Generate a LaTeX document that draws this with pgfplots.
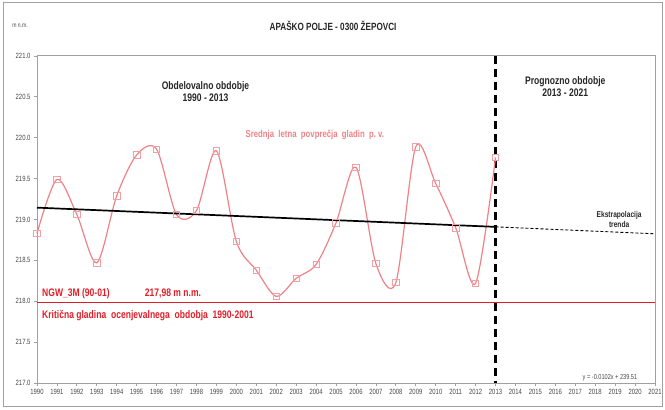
\documentclass[border=0pt]{standalone}
\usepackage{fontspec}
\setmainfont{Liberation Sans}[FakeStretch=0.78]
\usepackage{pgfplots}
\pgfplotsset{compat=1.18}
\definecolor{pinkline}{RGB}{240,130,135}
\definecolor{pinkmark}{RGB}{242,160,165}
\definecolor{redline}{RGB}{225,30,40}
\definecolor{framegray}{RGB}{160,160,160}
\definecolor{ticktext}{RGB}{70,70,70}
\begin{document}
\begin{tikzpicture}[x=1bp,y=1bp]
\useasboundingbox (0,0) rectangle (665,409);
\draw[framegray,line width=1bp] (3,3) rectangle (662,406);
\begin{axis}[
  at={(37bp,26bp)}, anchor=south west,
  scale only axis, width=618bp, height=327bp,
  xmin=1990, xmax=2021, ymin=217, ymax=221,
  xtick={1990,1991,...,2021},
  ytick={217,217.5,...,221},
  yticklabel style={/pgf/number format/.cd,fixed,fixed zerofill,precision=1},
  xticklabel style={/pgf/number format/1000 sep={}},
  /pgf/number format/assume math mode=true,
  tick label style={font=\fontsize{7.6}{8}\selectfont, text=ticktext},
  tick align=outside, tickwidth=3bp,
  xtick pos=bottom, ytick pos=left,
  tick style={framegray, line width=0.8bp},
  axis line style={framegray, line width=1bp},
  clip=false,
]
% vertical boundary 2013
\addplot[black, line width=2.2bp, dash pattern=on 8bp off 5bp] coordinates {(2013,221) (2013,217)};
% critical level
\addplot[redline, line width=1.2bp] coordinates {(1990,217.98) (2021,217.98)};
% series
\addplot[pinkline, line width=1.2bp, smooth, tension=0.5,
  mark=square, mark size=3.2bp, mark options={pinkmark, line width=0.7bp, solid}]
  coordinates {
(1990,218.83) (1991,219.49) (1992,219.06) (1993,218.47) (1994,219.29)
(1995,219.79) (1996,219.86) (1997,219.06) (1998,219.11) (1999,219.84)
(2000,218.73) (2001,218.38) (2002,218.06) (2003,218.28) (2004,218.45)
(2005,218.96) (2006,219.64) (2007,218.46) (2008,218.23) (2009,219.89)
(2010,219.44) (2011,218.90) (2012,218.22) (2013,219.76)
};
% trend
\addplot[black, line width=1.7bp] coordinates {(1990,219.145) (2013,218.91)};
\addplot[black, line width=0.9bp, dash pattern=on 3bp off 2bp] coordinates {(2013,218.91) (2021,218.825)};
% texts
\node[font=\bfseries\fontsize{10.5}{12}\selectfont, text=black!85] at (axis cs:2004.85,221.37) {APAŠKO POLJE - 0300 ŽEPOVCI};
\node[font=\fontsize{6.5}{7}\selectfont, text=ticktext] at (axis cs:1989.15,221.37) {m n.m.};
\node[font=\bfseries\fontsize{11}{12}\selectfont, align=center, text=black!85] at (axis cs:1998.45,220.56) {Obdelovalno obdobje\\1990 - 2013};
\node[font=\bfseries\fontsize{11}{12}\selectfont, align=center, text=black!85] at (axis cs:2016.5,220.63) {Prognozno obdobje\\2013 - 2021};
\node[font=\bfseries\fontsize{10}{11}\selectfont, text=pinkline] at (axis cs:2003.94,220.03) {Srednja\ \ letna\ \ povprečja\ \ gladin\ \ p.\ v.};
\node[font=\bfseries\fontsize{8.5}{9.5}\selectfont, align=center, text=black!85] at (axis cs:2019.2,219.0) {Ekstrapolacija\\trenda};
\node[font=\bfseries\fontsize{11}{12}\selectfont, text=redline, anchor=west, inner sep=0pt] at (axis cs:1990.25,218.09) {NGW\_3M (90-01)};
\node[font=\bfseries\fontsize{11}{12}\selectfont, text=redline] at (axis cs:1996.82,218.09) {217,98 m n.m.};
\node[font=\bfseries\fontsize{11}{12}\selectfont, text=redline, anchor=west, inner sep=0pt] at (axis cs:1990.25,217.83) {Kritična\ gladina\ \ ocenjevalnega\ \ obdobja\ \ 1990-2001};
\node[font=\fontsize{7.2}{8}\selectfont, text=ticktext] at (axis cs:2018.74,217.06) {y = -0.0102x + 239.51};
\end{axis}
\end{tikzpicture}
\end{document}
